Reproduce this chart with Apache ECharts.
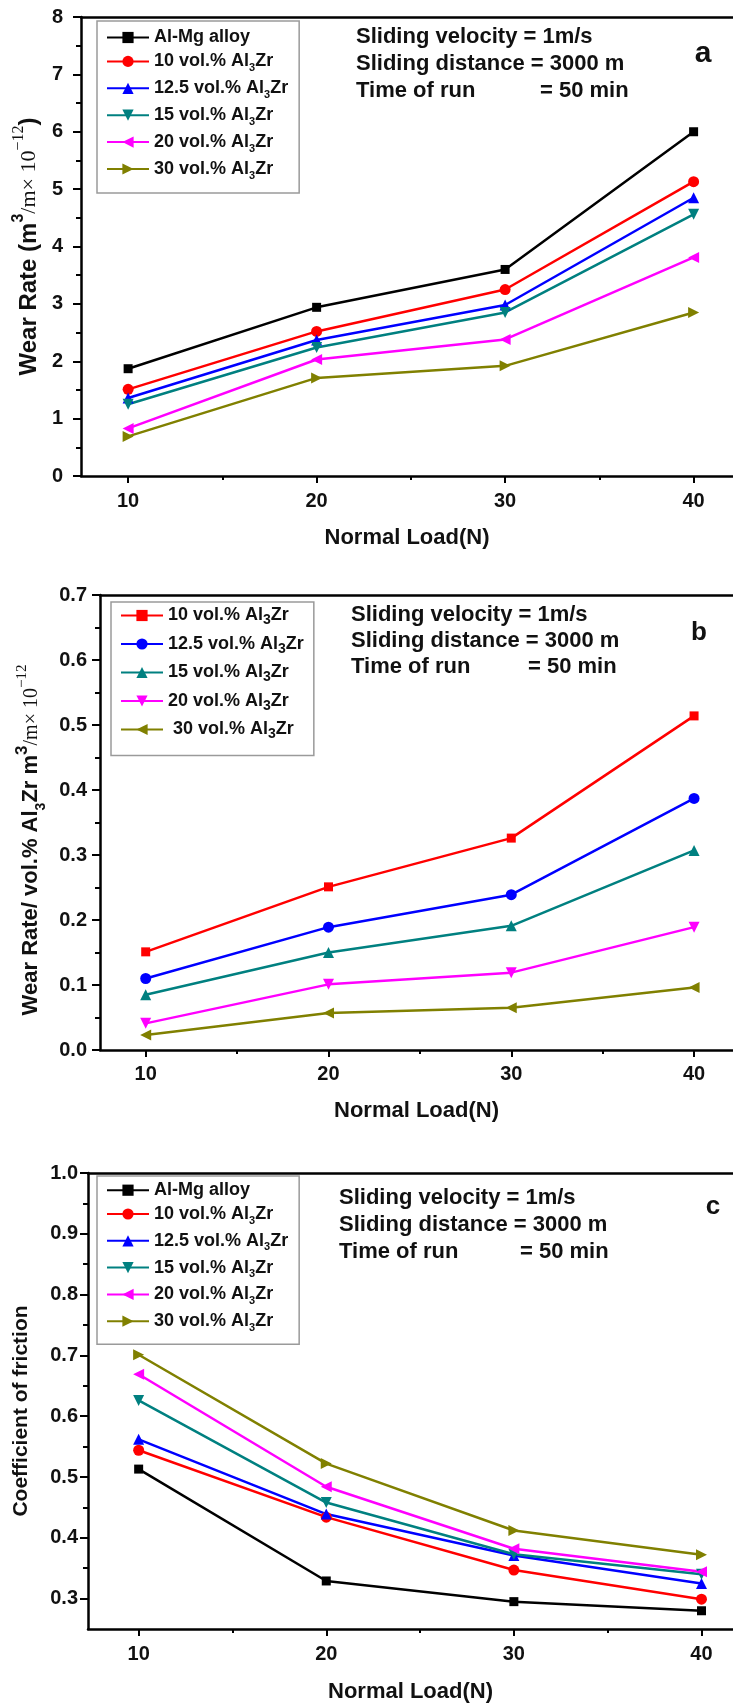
<!DOCTYPE html>
<html><head><meta charset="utf-8">
<script src="https://cdn.jsdelivr.net/npm/echarts@6/dist/echarts.min.js"></script>
<style>html,body{margin:0;padding:0;background:#fff}#c{width:733px;height:1706px}</style>
</head><body><div id="c"></div>
<script>
// ---- data ----
const loads = [10, 20, 30, 40];
const xMajorTicks = [10, 20, 30, 40];
const xMinorTicks = [15, 25, 35];
// panel a : wear rate (m^3/m x 10^-12)
const wearAlMg = [1.87, 2.94, 3.60, 6.00];
const wear10   = [1.51, 2.52, 3.25, 5.13];
const wear125  = [1.36, 2.37, 2.98, 4.85];
const wear15   = [1.25, 2.24, 2.85, 4.56];
const wear20   = [0.83, 2.03, 2.38, 3.81];
const wear30   = [0.69, 1.71, 1.92, 2.85];
// panel b : wear rate / vol.% Al3Zr
const spec10  = [0.151, 0.251, 0.326, 0.514];
const spec125 = [0.110, 0.189, 0.239, 0.387];
const spec15  = [0.085, 0.150, 0.191, 0.307];
const spec20  = [0.041, 0.101, 0.119, 0.189];
const spec30  = [0.023, 0.057, 0.065, 0.096];
// panel c : coefficient of friction
const cofAlMg = [0.513, 0.329, 0.295, 0.280];
const cof10   = [0.544, 0.434, 0.347, 0.299];
const cof125  = [0.562, 0.439, 0.371, 0.325];
const cof15   = [0.626, 0.458, 0.373, 0.340];
const cof20   = [0.669, 0.484, 0.382, 0.344];
const cof30   = [0.701, 0.522, 0.412, 0.372];
const cofMajorTicks = [0.3, 0.4, 0.5, 0.6, 0.7, 0.8, 0.9, 1.0];
const cofMinorTicks = [0.35, 0.45, 0.55, 0.65, 0.75, 0.85, 0.95];
// legend labels
const labelsAC = ['Al-Mg alloy', '10 vol.% Al3Zr', '12.5 vol.% Al3Zr', '15 vol.% Al3Zr', '20 vol.% Al3Zr', '30 vol.% Al3Zr'];
const labelsB = ['10 vol.% Al3Zr', '12.5 vol.% Al3Zr', '15 vol.% Al3Zr', '20 vol.% Al3Zr', ' 30 vol.% Al3Zr'];

// ---- chart ----
const FONT = 'Liberation Sans';
const TXT = '#111';
const chart = echarts.init(document.getElementById('c'), null, {renderer: 'canvas'});
const pairs = ys => loads.map((x, i) => [x, ys[i]]);

const stylesAC = [
  {c: '#000000', s: 'rect', z: 9, r: 0},
  {c: '#ff0000', s: 'circle', z: 11, r: 0},
  {c: '#0000ff', s: 'triangle', z: 11, r: 0},
  {c: '#008080', s: 'triangle', z: 11, r: 180},
  {c: '#ff00ff', s: 'triangle', z: 11, r: 90},
  {c: '#808000', s: 'triangle', z: 11, r: -90}
];
const stylesB = [
  {c: '#ff0000', s: 'rect', z: 9, r: 0},
  {c: '#0000ff', s: 'circle', z: 11, r: 0},
  {c: '#008080', s: 'triangle', z: 11, r: 0},
  {c: '#ff00ff', s: 'triangle', z: 11, r: 180},
  {c: '#808000', s: 'triangle', z: 11, r: 90}
];

const legendText = {};
function richLabel(lbl) {
  if (lbl.indexOf('Al3Zr') < 0) return '{t|' + lbl + '}';
  const pre = lbl.replace('Al3Zr', '');
  return '{t|' + pre + 'Al}{s|3}{t|Zr}';
}
function mkSeries(id, lbl, ys, st, xi, yi) {
  legendText[id] = richLabel(lbl);
  return {
    id: id, name: id, type: 'line', xAxisIndex: xi, yAxisIndex: yi,
    data: pairs(ys), symbol: st.s, symbolSize: st.z, symbolRotate: st.r,
    lineStyle: {color: st.c, width: 2.5}, itemStyle: {color: st.c},
    animation: false
  };
}
const series = [];
[wearAlMg, wear10, wear125, wear15, wear20, wear30].forEach((ys, i) =>
  series.push(mkSeries('a' + i, labelsAC[i], ys, stylesAC[i], 0, 0)));
[spec10, spec125, spec15, spec20, spec30].forEach((ys, i) =>
  series.push(mkSeries('b' + i, labelsB[i], ys, stylesB[i], 2, 1)));
[cofAlMg, cof10, cof125, cof15, cof20, cof30].forEach((ys, i) =>
  series.push(mkSeries('c' + i, labelsAC[i], ys, stylesAC[i], 4, 2)));

const tickStyle = {color: '#000', width: 2};
const lineAx = {show: true, onZero: false, lineStyle: {color: '#000', width: 2.5}};
const xName = 'Normal Load(N)';
const xNameStyle = {fontFamily: FONT, fontWeight: 'bold', fontSize: 22, color: TXT, lineHeight: 26};
// x extents per panel [min, max]
const xExt = [[7.5, 42.09], [7.5, 42.13], [7.3, 41.68]];

function xMain(g, gap, margin) {
  return {type: 'value', gridIndex: g, min: xExt[g][0], max: xExt[g][1], position: 'bottom',
    name: xName, nameLocation: 'middle', nameGap: gap, nameTextStyle: xNameStyle,
    axisLine: lineAx, splitLine: {show: false},
    axisTick: {show: true, customValues: xMajorTicks, length: 7, lineStyle: tickStyle},
    axisLabel: {customValues: xMajorTicks, margin: margin, fontFamily: FONT, fontWeight: 'bold', fontSize: 20, color: TXT, lineHeight: 20}};
}
function xMinor(g) {
  return {type: 'value', gridIndex: g, min: xExt[g][0], max: xExt[g][1], position: 'bottom',
    axisLine: {show: false}, splitLine: {show: false}, axisLabel: {show: false},
    axisTick: {show: true, customValues: xMinorTicks, length: 4, lineStyle: tickStyle}};
}
function xTop(g) {
  return {type: 'value', gridIndex: g, min: xExt[g][0], max: xExt[g][1], position: 'top',
    axisLine: lineAx, splitLine: {show: false}, axisLabel: {show: false}, axisTick: {show: false}};
}
const yLabelBase = {fontFamily: FONT, fontWeight: 'bold', fontSize: 20, color: TXT};

const legendRich = (subSize) => ({
  t: {fontFamily: FONT, fontWeight: 'bold', fontSize: 18, color: TXT, lineHeight: 24},
  s: {fontFamily: FONT, fontWeight: 'bold', fontSize: subSize, color: TXT, lineHeight: 14, verticalAlign: 'bottom'}
});
function mkLegend(prefix, n, left, top, gap, pad, subSize) {
  const data = [];
  for (let i = 0; i < n; i++) data.push(prefix + i);
  return {data: data, orient: 'vertical', left: left, top: top, itemGap: gap, padding: pad,
    itemWidth: 42, itemHeight: 14, align: 'left', selectedMode: false,
    borderColor: '#9a9a9a', borderWidth: 1.5, backgroundColor: '#fff',
    formatter: name => legendText[name],
    textStyle: {fontFamily: FONT, fontWeight: 'bold', fontSize: 18, color: TXT, rich: legendRich(subSize)}};
}
function txt(x, y, s, size) {
  return {type: 'text', x: x, y: y, z: 100, style: {text: s, fontFamily: FONT, fontWeight: 'bold', fontSize: size || 22, fill: TXT, verticalAlign: 'middle'}};
}
function notes(x, y0, dy, eqx, letter, lx, ly, lsize) {
  return [
    txt(x, y0, 'Sliding velocity = 1m/s'),
    txt(x, y0 + dy, 'Sliding distance = 3000 m'),
    txt(x, y0 + 2 * dy, 'Time of run'),
    txt(eqx, y0 + 2 * dy, '= 50 min'),
    {type: 'text', x: lx, y: ly, z: 100, style: {text: letter, fontFamily: FONT, fontWeight: 'bold', fontSize: lsize, fill: TXT, align: 'center', verticalAlign: 'middle'}}
  ];
}

const option = {
  backgroundColor: '#fff',
  animation: false,
  grid: [
    {left: 81, top: 17, right: 0, height: 459},
    {left: 100, top: 595, right: 0, height: 455},
    {left: 88, top: 1173, right: 0, height: 458}
  ],
  xAxis: [xMain(0, 49, 15), xMinor(0), xMain(1, 48, 14), xMinor(1), xMain(2, 50, 15), xMinor(2),
          xTop(0), xTop(1), xTop(2)],
  yAxis: [
    {type: 'value', gridIndex: 0, min: 0, max: 8, interval: 1, position: 'left',
     name: '{b|Wear Rate (m}{sp|3}{s|/m× 10}{ss|−12}{b|)}', nameLocation: 'middle', nameGap: 25,
     nameTextStyle: {rich: {
       b: {fontFamily: FONT, fontWeight: 'bold', fontSize: 24, color: TXT, lineHeight: 36},
       sp: {fontFamily: FONT, fontWeight: 'bold', fontSize: 16, color: TXT, lineHeight: 16, verticalAlign: 'top'},
       s: {fontFamily: 'Liberation Serif', fontSize: 22, color: TXT, lineHeight: 36},
       ss: {fontFamily: 'Liberation Serif', fontSize: 16, color: TXT, lineHeight: 16, verticalAlign: 'top'}}},
     axisLine: lineAx, splitLine: {show: false},
     axisTick: {show: true, length: 8, lineStyle: tickStyle},
     minorTick: {show: true, splitNumber: 2, length: 5, lineStyle: tickStyle},
     axisLabel: Object.assign({margin: 18}, yLabelBase)},
    {type: 'value', gridIndex: 1, min: 0, max: 0.7, interval: 0.1, position: 'left',
     name: '{b|Wear Rate/ vol.% Al}{bs|3}{b|Zr m}{sp|3}{s|/m× 10}{ss|−12}', nameLocation: 'middle', nameGap: 44,
     nameTextStyle: {padding: [0, 35, 0, 0], rich: {
       b: {fontFamily: FONT, fontWeight: 'bold', fontSize: 22, color: TXT, lineHeight: 34},
       bs: {fontFamily: FONT, fontWeight: 'bold', fontSize: 14, color: TXT, lineHeight: 30, verticalAlign: 'bottom'},
       sp: {fontFamily: FONT, fontWeight: 'bold', fontSize: 17, color: TXT, lineHeight: 16, verticalAlign: 'top'},
       s: {fontFamily: 'Liberation Serif', fontSize: 20, color: TXT, lineHeight: 34},
       ss: {fontFamily: 'Liberation Serif', fontSize: 15, color: TXT, lineHeight: 16, verticalAlign: 'top'}}},
     axisLine: lineAx, splitLine: {show: false},
     axisTick: {show: true, length: 8, lineStyle: tickStyle},
     minorTick: {show: true, splitNumber: 2, length: 5, lineStyle: tickStyle},
     axisLabel: Object.assign({margin: 13, formatter: v => v.toFixed(1)}, yLabelBase)},
    {type: 'value', gridIndex: 2, min: 0.25, max: 1.0, position: 'left',
     name: 'Coefficient of friction', nameLocation: 'middle', nameGap: 54,
     nameTextStyle: {fontFamily: FONT, fontWeight: 'bold', fontSize: 21, color: TXT, lineHeight: 26, padding: [0, 20, 0, 0]},
     axisLine: lineAx, splitLine: {show: false},
     axisTick: {show: true, customValues: cofMajorTicks, length: 8, lineStyle: tickStyle},
     axisLabel: Object.assign({customValues: cofMajorTicks, margin: 10, formatter: v => v.toFixed(1)}, yLabelBase)},
    {type: 'value', gridIndex: 2, min: 0.25, max: 1.0, position: 'left',
     axisLine: {show: false}, splitLine: {show: false}, axisLabel: {show: false},
     axisTick: {show: true, customValues: cofMinorTicks, length: 5, lineStyle: tickStyle}}
  ],
  legend: [
    mkLegend('a', 6, 97, 21, 5.9, [7.5, 11, 12, 9], 11),
    mkLegend('b', 5, 111, 602, 7.5, [4.5, 10, 14, 9], 14),
    mkLegend('c', 6, 97, 1176, 5.8, [5.2, 11, 11, 9], 11)
  ],
  graphic: [].concat(
    notes(356, 37, 27, 540, 'a', 703, 54, 30),
    notes(351, 615, 26, 528, 'b', 699, 633, 26),
    notes(339, 1198, 27, 520, 'c', 713, 1207, 26)
  ),
  series: series
};
chart.setOption(option);
</script>
</body></html>
